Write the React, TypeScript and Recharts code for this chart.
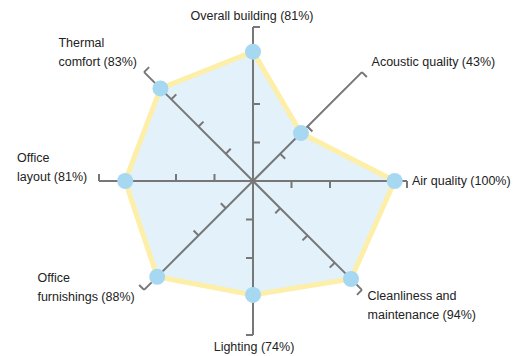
import { PolarAngleAxis, Radar, RadarChart } from 'recharts';

const categories = [
  'Overall building',
  'Acoustic quality',
  'Air quality',
  'Cleanliness and\nmaintenance',
  'Lighting',
  'Office\nfurnishings',
  'Office\nlayout',
  'Thermal\ncomfort',
];
// percentages printed in the labels
const scores = [81, 43, 100, 94, 74, 88, 81, 83];
// where the points sit on the axes (0-100 of axis length)
const plotted = [84, 44, 92, 90, 74, 88, 83, 85];
// tick marks on each spoke, as % of axis length (100 = end cap)
const spokeTicks = [
  [25, 50, 100],
  [25, 50, 100],
  [25, 50, 100],
  [25, 50, 75, 100],
  [25, 50, 100],
  [25, 50, 100],
  [25, 50, 100],
  [25, 50, 75, 100],
];

const data = categories.map((name, i) => ({
  name,
  label: `${name} (${scores[i]}%)`,
  value: plotted[i],
}));

const labelPlacement = [
  { anchor: 'middle', dx: -1, dy: 1 },
  { anchor: 'start', dx: 4, dy: 0 },
  { anchor: 'start', dx: -3, dy: 3.5 },
  { anchor: 'start', dx: 0, dy: 4 },
  { anchor: 'middle', dx: 1, dy: 8 },
  { anchor: 'start', dx: -101, dy: -14 },
  { anchor: 'start', dx: -74, dy: -19.5 },
  { anchor: 'start', dx: -80, dy: -19 },
];

const FONT = '"Liberation Sans", Arial, sans-serif';
const AXIS = '#777777';
const OUTER = 154;
const TICK_GAP = 8; // recharts puts angle ticks at radius + tickSize

function Spoke(props: any) {
  const { x, y, payload, index } = props;
  const i = typeof index === 'number' ? index : categories.indexOf(payload.value);
  const rad = (payload.coordinate * Math.PI) / 180;
  const ux = Math.cos(rad);
  const uy = -Math.sin(rad);
  const cx = x - (OUTER + TICK_GAP) * ux;
  const cy = y - (OUTER + TICK_GAP) * uy;
  // perpendicular, clockwise side
  const px = -uy * 7;
  const py = ux * 7;
  const place = labelPlacement[i];
  const lines = data[i].label.split('\n');
  return (
    <g>
      <line
        x1={cx}
        y1={cy}
        x2={cx + ux * OUTER}
        y2={cy + uy * OUTER}
        stroke={AXIS}
        strokeWidth={2}
      />
      {spokeTicks[i].map((t) => {
        const r = (OUTER * t) / 100;
        const bx = cx + ux * r;
        const by = cy + uy * r;
        return (
          <line key={t} x1={bx} y1={by} x2={bx + px} y2={by + py} stroke={AXIS} strokeWidth={2} />
        );
      })}
      <text
        x={x + place.dx}
        y={y + place.dy}
        textAnchor={place.anchor}
        fontFamily={FONT}
        fontSize={12.5}
        fill="#222"
      >
        {lines.map((l: string, k: number) => (
          <tspan key={k} x={x + place.dx} dy={k === 0 ? 0 : 19}>
            {l}
          </tspan>
        ))}
      </text>
    </g>
  );
}

export default function App() {
  return (
    <div style={{ position: 'absolute', left: 0, top: 0, background: '#fff' }}>
      <RadarChart
        width={528}
        height={356}
        data={data}
        cx={253}
        cy={181}
        outerRadius={OUTER}
        margin={{ top: 0, right: 0, bottom: 0, left: 0 }}
      >
        <Radar
          dataKey="value"
          stroke="none"
          fill="#E3F1FA"
          fillOpacity={1}
          isAnimationActive={false}
        />
        <PolarAngleAxis dataKey="name" axisLine={false} tickLine={false} tick={Spoke} />
        <Radar
          dataKey="value"
          stroke="#FDEEA8"
          strokeWidth={5}
          fill="none"
          fillOpacity={0}
          isAnimationActive={false}
        />
        <Radar
          dataKey="value"
          stroke="none"
          fill="none"
          fillOpacity={0}
          dot={{ r: 8, fill: '#A7D8F2', stroke: 'none', fillOpacity: 1 }}
          isAnimationActive={false}
        />
      </RadarChart>
    </div>
  );
}
